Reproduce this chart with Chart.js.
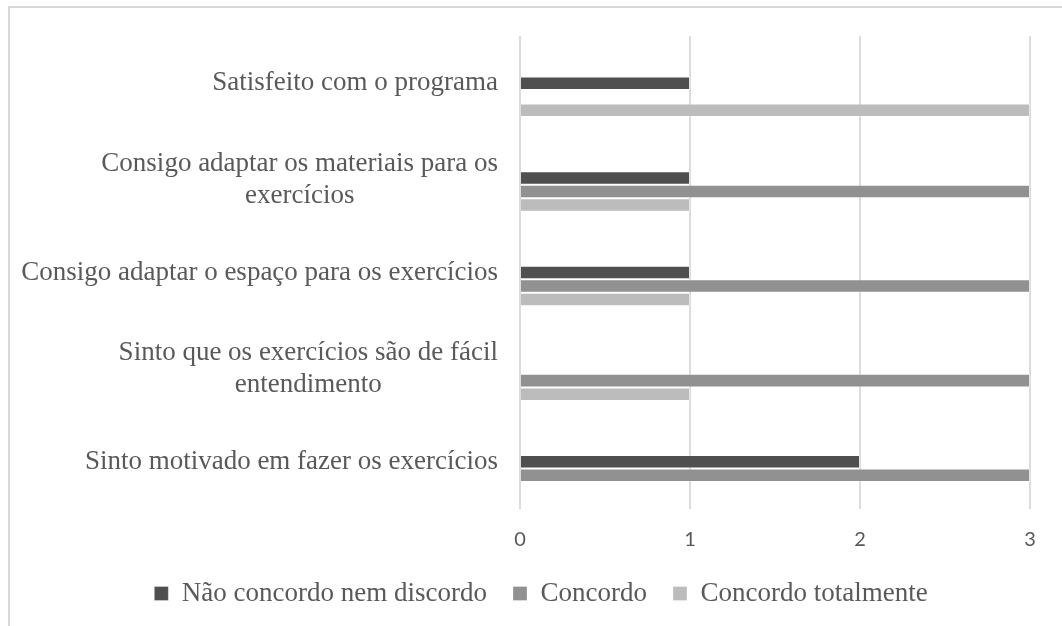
<!DOCTYPE html>
<html>
<head>
<meta charset="utf-8">
<script src="https://cdn.jsdelivr.net/npm/chart.js@4"></script>
<style>
  html, body { margin: 0; padding: 0; background: #fff; overflow: hidden; }
  #frame { position: absolute; left: 8px; top: 6px; width: 1100px; height: 700px; border: 2px solid #d9d9d9; box-sizing: border-box; }
  #wrap { position: absolute; left: 0; top: 0; width: 1062px; height: 626px; }
</style>
</head>
<body>
<div id="frame"></div>
<div id="wrap"><canvas id="myChart"></canvas></div>
<script>
// categories, top to bottom
const categories = [
  ['Satisfeito com o programa'],
  ['Consigo adaptar os materiais para os', 'exercícios'],
  ['Consigo adaptar o espaço para os exercícios'],
  ['Sinto que os exercícios são de fácil', 'entendimento'],
  ['Sinto motivado em fazer os exercícios']
];

const seriesNames = ['Não concordo nem discordo', 'Concordo', 'Concordo totalmente'];
const naoConcordoNemDiscordo = [1, 1, 1, null, 2];
const concordo = [null, 3, 3, 3, 3];
const concordoTotalmente = [3, 1, 1, 1, null];
const xTicks = [0, 1, 2, 3];

const colors = ['#4f4f4f', '#919191', '#bcbcbc'];
const textColor = '#595959';
const serif = '"Liberation Serif", "Times New Roman", serif';

// Excel draws each group one bar lower than the category centre,
// two empty slots above the real bars reproduce that offset
const spacer = { label: '', data: [], backgroundColor: 'transparent' };

const yLabels = {
  id: 'yLabels',
  afterDraw(chart) {
    const ctx = chart.ctx;
    const y = chart.scales.y;
    const right = chart.chartArea.left - 22;
    ctx.save();
    ctx.font = '27px ' + serif;
    ctx.fillStyle = textColor;
    ctx.textBaseline = 'middle';
    ctx.textAlign = 'center';
    const lh = 32;
    categories.forEach((lines, i) => {
      const cy = y.getPixelForValue(i) + (lines.length > 1 ? 2 : 0);
      const w = Math.max(...lines.map(l => ctx.measureText(l).width));
      const cx = right - w / 2;
      lines.forEach((l, k) => {
        ctx.fillText(l, cx, cy + (k - (lines.length - 1) / 2) * lh);
      });
    });
    ctx.restore();
  }
};

const ctx = document.getElementById('myChart').getContext('2d');

const chart = new Chart(ctx, {
  type: 'bar',
  data: {
    labels: categories.map(c => c.join(' ')),
    datasets: [
      Object.assign({}, spacer),
      Object.assign({}, spacer),
      { label: seriesNames[0], data: naoConcordoNemDiscordo, backgroundColor: colors[0] },
      { label: seriesNames[1], data: concordo, backgroundColor: colors[1] },
      { label: seriesNames[2], data: concordoTotalmente, backgroundColor: colors[2] }
    ]
  },
  options: {
    indexAxis: 'y',
    responsive: true,
    maintainAspectRatio: false,
    animation: false,
    datasets: {
      bar: {
        categoryPercentage: 0.715,
        barPercentage: 1,
        borderWidth: 1,
        borderColor: 'rgba(255,255,255,0.3)'
      }
    },
    layout: {
      padding: { left: 52, right: 32, top: 36, bottom: 9 }
    },
    plugins: {
      legend: {
        position: 'bottom',
        labels: {
          filter: item => item.text !== '',
          boxWidth: 14,
          boxHeight: 14,
          padding: 26,
          color: textColor,
          font: { family: serif, size: 27 }
        }
      },
      tooltip: { enabled: false }
    },
    scales: {
      x: {
        min: 0,
        max: 3,
        afterBuildTicks: s => { s.ticks = xTicks.map(v => ({ value: v })); },
        afterFit: s => { s.height = 45; },
        grid: { color: '#dcdcdc', lineWidth: 2, drawTicks: false },
        border: { display: false },
        ticks: {
          padding: 19,
          color: textColor,
          font: { family: 'Lato', size: 20 }
        }
      },
      y: {
        grid: { display: false },
        border: { display: false },
        ticks: { display: false },
        afterFit: s => { s.width = 468; }
      }
    }
  },
  plugins: [yLabels]
});
</script>
</body>
</html>
